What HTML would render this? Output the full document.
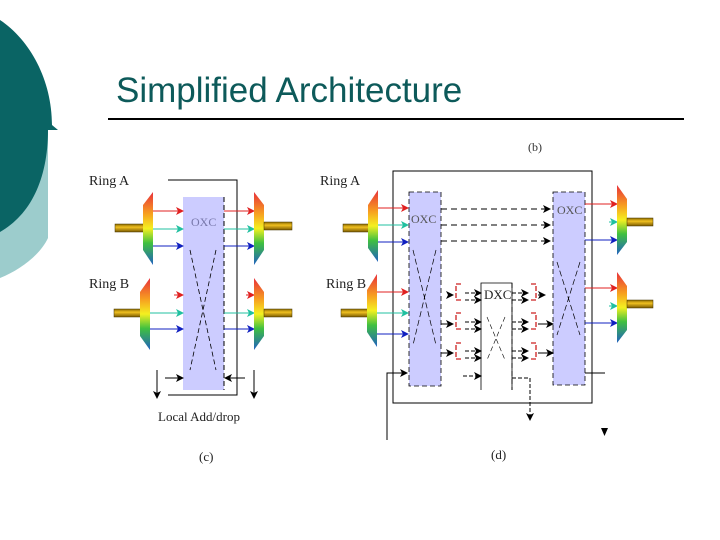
<!DOCTYPE html>
<html><head><style>
html,body{margin:0;padding:0;background:#fff;}
svg{display:block;}
</style></head><body>
<svg width="720" height="540" viewBox="0 0 720 540" xmlns="http://www.w3.org/2000/svg" font-family="Liberation Serif, serif">
<defs>
<linearGradient id="rb" x1="0" y1="0" x2="0" y2="1">
<stop offset="0" stop-color="#e8303a"/><stop offset="0.3" stop-color="#f7a020"/><stop offset="0.5" stop-color="#f4f020"/><stop offset="0.7" stop-color="#40c040"/><stop offset="1" stop-color="#2060c0"/>
</linearGradient>
<linearGradient id="yb" x1="0" y1="0" x2="0" y2="1">
<stop offset="0" stop-color="#8a6a00"/><stop offset="0.4" stop-color="#f0c020"/><stop offset="1" stop-color="#7a5a00"/>
</linearGradient>
<marker id="ar" markerWidth="8" markerHeight="8" refX="7" refY="4" orient="auto" markerUnits="userSpaceOnUse"><path d="M0,0 L8,4 L0,8 L2,4z" fill="#e02020"/></marker>
<marker id="at" markerWidth="8" markerHeight="8" refX="7" refY="4" orient="auto" markerUnits="userSpaceOnUse"><path d="M0,0 L8,4 L0,8 L2,4z" fill="#20c0a0"/></marker>
<marker id="ab" markerWidth="8" markerHeight="8" refX="7" refY="4" orient="auto" markerUnits="userSpaceOnUse"><path d="M0,0 L8,4 L0,8 L2,4z" fill="#1020c0"/></marker>
<marker id="ak" markerWidth="8" markerHeight="8" refX="7" refY="4" orient="auto" markerUnits="userSpaceOnUse"><path d="M0,0 L8,4 L0,8 L2,4z" fill="#000"/></marker>
</defs>
<!-- left decoration -->
<path d="M0,120 L48,120 L48,238 C40,255 20,270 0,278 Z" fill="#9ccccc"/>
<path d="M0,20 C30,40 52,80 52,125 L58,130 L48,130 C48,180 30,215 0,232 Z" fill="#0a6464"/>
<!-- title -->
<text x="116" y="102" font-family="Liberation Sans, sans-serif" font-size="35" fill="#0d5a5a">Simplified Architecture</text>
<rect x="108" y="118" width="576" height="2" fill="#000"/>
<text x="528" y="151" font-size="12" fill="#333">(b)</text>

<!-- Diagram (c) -->
<g font-size="14" fill="#222">
<text x="89" y="185">Ring A</text>
<text x="89" y="288">Ring B</text>
<text x="158" y="421" font-size="13">Local Add/drop</text>
<text x="199" y="461" font-size="13">(c)</text>
</g>
<polyline points="168,180 237,180 237,395 168,395" fill="none" stroke="#000" stroke-width="1"/>
<rect x="183" y="197" width="41" height="193" fill="#ccccff"/>
<line x1="224" y1="197" x2="224" y2="390" stroke="#000" stroke-dasharray="5,3"/>
<text x="191" y="226" font-size="12" fill="#7777aa">OXC</text>
<line x1="190" y1="250" x2="216" y2="370" stroke="#000" stroke-dasharray="5,3" stroke-width="0.8"/>
<line x1="216" y1="250" x2="190" y2="370" stroke="#000" stroke-dasharray="5,3" stroke-width="0.8"/>
<rect x="115" y="224" width="30" height="8" fill="url(#yb)" stroke="#443300" stroke-width="0.5"/>
<polygon points="143,205 153,192 153,265 143,250" fill="url(#rb)"/>
<line x1="153" y1="211" x2="183" y2="211" stroke="#e02020" marker-end="url(#ar)"/>
<line x1="153" y1="229" x2="183" y2="229" stroke="#20c0a0" marker-end="url(#at)"/>
<line x1="153" y1="246" x2="183" y2="246" stroke="#1020c0" marker-end="url(#ab)"/>
<line x1="224" y1="211" x2="254" y2="211" stroke="#e02020" marker-end="url(#ar)"/>
<line x1="224" y1="229" x2="254" y2="229" stroke="#20c0a0" marker-end="url(#at)"/>
<line x1="224" y1="246" x2="254" y2="246" stroke="#1020c0" marker-end="url(#ab)"/>
<polygon points="254,192 264,205 264,250 254,265" fill="url(#rb)"/>
<rect x="264" y="222" width="28" height="8" fill="url(#yb)" stroke="#443300" stroke-width="0.5"/>
<rect x="114" y="309" width="28" height="8" fill="url(#yb)" stroke="#443300" stroke-width="0.5"/>
<polygon points="140,292 150,278 150,350 140,336" fill="url(#rb)"/>
<line x1="174" y1="295" x2="183" y2="295" stroke="#e02020" marker-end="url(#ar)"/>
<line x1="150" y1="313" x2="183" y2="313" stroke="#20c0a0" marker-end="url(#at)"/>
<line x1="150" y1="329" x2="183" y2="329" stroke="#1020c0" marker-end="url(#ab)"/>
<line x1="246" y1="295" x2="254" y2="295" stroke="#e02020" marker-end="url(#ar)"/>
<line x1="224" y1="313" x2="254" y2="313" stroke="#20c0a0" marker-end="url(#at)"/>
<line x1="224" y1="329" x2="254" y2="329" stroke="#1020c0" marker-end="url(#ab)"/>
<polygon points="254,278 264,292 264,336 254,350" fill="url(#rb)"/>
<rect x="264" y="309" width="28" height="8" fill="url(#yb)" stroke="#443300" stroke-width="0.5"/>
<line x1="165" y1="378" x2="183" y2="378" stroke="#000" marker-end="url(#ak)"/>
<line x1="245" y1="378" x2="225" y2="378" stroke="#000" marker-end="url(#ak)"/>
<line x1="157" y1="370" x2="157" y2="398" stroke="#000" marker-end="url(#ak)"/>
<line x1="254" y1="370" x2="254" y2="398" stroke="#000" marker-end="url(#ak)"/>

<!-- Diagram (d) -->
<g font-size="14" fill="#222">
<text x="320" y="185">Ring A</text>
<text x="326" y="288">Ring B</text>
<text x="491" y="459" font-size="13">(d)</text>
</g>
<rect x="393" y="171" width="199" height="232" fill="none" stroke="#000"/>
<rect x="409" y="192" width="32" height="194" fill="#ccccff"/>
<rect x="409" y="192" width="32" height="194" fill="none" stroke="#000" stroke-dasharray="5,3" stroke-width="0.8"/>
<text x="411" y="223" font-size="12" fill="#555">OXC</text>
<line x1="413" y1="250" x2="436" y2="345" stroke="#000" stroke-width="0.7" stroke-dasharray="6,3"/>
<line x1="436" y1="250" x2="413" y2="345" stroke="#000" stroke-width="0.7" stroke-dasharray="6,3"/>
<rect x="553" y="192" width="32" height="193" fill="#ccccff"/>
<rect x="553" y="192" width="32" height="193" fill="none" stroke="#000" stroke-dasharray="5,3" stroke-width="0.8"/>
<text x="557" y="214" font-size="12" fill="#555">OXC</text>
<line x1="557" y1="262" x2="580" y2="335" stroke="#000" stroke-width="0.7" stroke-dasharray="6,3"/>
<line x1="580" y1="262" x2="557" y2="335" stroke="#000" stroke-width="0.7" stroke-dasharray="6,3"/>
<g stroke="#000" stroke-dasharray="6,4">
<line x1="441" y1="209" x2="550" y2="209" marker-end="url(#ak)"/>
<line x1="441" y1="225" x2="550" y2="225" marker-end="url(#ak)"/>
<line x1="441" y1="241" x2="550" y2="241" marker-end="url(#ak)"/>
</g>
<rect x="343" y="224" width="27" height="8" fill="url(#yb)" stroke="#443300" stroke-width="0.5"/>
<polygon points="368,205 378,190 378,262 368,248" fill="url(#rb)"/>
<line x1="378" y1="208" x2="408" y2="208" stroke="#e02020" marker-end="url(#ar)"/>
<line x1="378" y1="225" x2="408" y2="225" stroke="#20c0a0" marker-end="url(#at)"/>
<line x1="378" y1="242" x2="408" y2="242" stroke="#1020c0" marker-end="url(#ab)"/>
<rect x="341" y="309" width="28" height="8" fill="url(#yb)" stroke="#443300" stroke-width="0.5"/>
<polygon points="367,290 377,274 377,347 367,332" fill="url(#rb)"/>
<line x1="377" y1="292" x2="408" y2="292" stroke="#e02020" marker-end="url(#ar)"/>
<line x1="377" y1="313" x2="408" y2="313" stroke="#20c0a0" marker-end="url(#at)"/>
<line x1="377" y1="334" x2="408" y2="334" stroke="#1020c0" marker-end="url(#ab)"/>
<line x1="585" y1="204" x2="617" y2="204" stroke="#e02020" marker-end="url(#ar)"/>
<line x1="609" y1="222" x2="617" y2="222" stroke="#20c0a0" marker-end="url(#at)"/>
<line x1="585" y1="240" x2="617" y2="240" stroke="#1020c0" marker-end="url(#ab)"/>
<polygon points="617,185 627,199 627,242 617,255" fill="url(#rb)"/>
<rect x="627" y="218" width="26" height="8" fill="url(#yb)" stroke="#443300" stroke-width="0.5"/>
<line x1="585" y1="288" x2="617" y2="288" stroke="#e02020" marker-end="url(#ar)"/>
<line x1="609" y1="306" x2="617" y2="306" stroke="#20c0a0" marker-end="url(#at)"/>
<line x1="585" y1="323" x2="617" y2="323" stroke="#1020c0" marker-end="url(#ab)"/>
<polygon points="617,272 627,286 627,330 617,343" fill="url(#rb)"/>
<rect x="627" y="300" width="26" height="8" fill="url(#yb)" stroke="#443300" stroke-width="0.5"/>
<polyline points="481,390 481,283 512,283 512,390" fill="#fff" stroke="#000" stroke-width="0.8"/>
<line x1="512" y1="283" x2="512" y2="390" stroke="#000" stroke-dasharray="5,3"/>
<text x="484" y="299" font-size="13" fill="#222">DXC</text>
<line x1="487" y1="317" x2="505" y2="360" stroke="#000" stroke-width="0.6" stroke-dasharray="5,3"/>
<line x1="505" y1="317" x2="487" y2="360" stroke="#000" stroke-width="0.6" stroke-dasharray="5,3"/>
<g fill="none" stroke="#cc2020" stroke-width="1.3" stroke-dasharray="5,2">
<path d="M461,284 h-5 v16 h5"/><path d="M461,313 h-5 v16 h5"/><path d="M461,343 h-5 v16 h5"/>
<path d="M531,284 h5 v16 h-5"/><path d="M531,313 h5 v16 h-5"/><path d="M531,343 h5 v16 h-5"/>
</g>
<g stroke="#000" stroke-width="1">
<line x1="441" y1="324" x2="453" y2="324" marker-end="url(#ak)"/>
<line x1="441" y1="353" x2="453" y2="353" marker-end="url(#ak)"/>
<line x1="448" y1="295" x2="453" y2="295" marker-end="url(#ak)"/>
<line x1="465" y1="293" x2="481" y2="293" stroke-dasharray="4,2" marker-end="url(#ak)"/>
<line x1="465" y1="300" x2="481" y2="300" stroke-dasharray="4,2" marker-end="url(#ak)"/>
<line x1="465" y1="322" x2="481" y2="322" stroke-dasharray="4,2" marker-end="url(#ak)"/>
<line x1="465" y1="329" x2="481" y2="329" stroke-dasharray="4,2" marker-end="url(#ak)"/>
<line x1="465" y1="351" x2="481" y2="351" stroke-dasharray="4,2" marker-end="url(#ak)"/>
<line x1="465" y1="358" x2="481" y2="358" stroke-dasharray="4,2" marker-end="url(#ak)"/>
<line x1="463" y1="376" x2="481" y2="376" stroke-dasharray="4,2" marker-end="url(#ak)"/>
<line x1="512" y1="293" x2="528" y2="293" stroke-dasharray="4,2" marker-end="url(#ak)"/>
<line x1="512" y1="300" x2="528" y2="300" stroke-dasharray="4,2" marker-end="url(#ak)"/>
<line x1="512" y1="322" x2="528" y2="322" stroke-dasharray="4,2" marker-end="url(#ak)"/>
<line x1="512" y1="329" x2="528" y2="329" stroke-dasharray="4,2" marker-end="url(#ak)"/>
<line x1="512" y1="351" x2="528" y2="351" stroke-dasharray="4,2" marker-end="url(#ak)"/>
<line x1="512" y1="358" x2="528" y2="358" stroke-dasharray="4,2" marker-end="url(#ak)"/>
<line x1="538" y1="295" x2="545" y2="295" marker-end="url(#ak)"/>
<line x1="538" y1="324" x2="553" y2="324" marker-end="url(#ak)"/>
<line x1="538" y1="353" x2="553" y2="353" marker-end="url(#ak)"/>
<polyline points="512,378 530,378 530,420" fill="none" stroke-dasharray="4,2" marker-end="url(#ak)"/>
<polyline points="387,440 387,373 407,373" fill="none" marker-end="url(#ak)"/>
<line x1="585" y1="373" x2="605" y2="373"/>
</g>
<path d="M601,428 L608,428 L604.5,436 Z" fill="#000"/>
</svg>
</body></html>
